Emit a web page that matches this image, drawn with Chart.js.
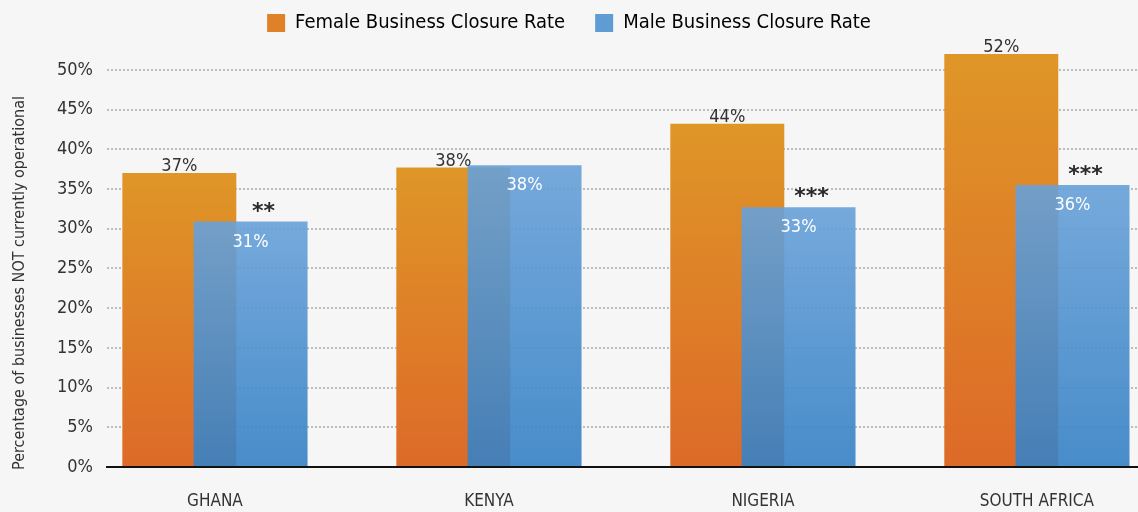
<!DOCTYPE html>
<html>
<head>
<meta charset="utf-8">
<script src="https://cdn.jsdelivr.net/npm/chart.js@4"></script>
<style>
  html, body { margin: 0; padding: 0; background: #f6f6f6; }
  #chart { display: block; }
</style>
</head>
<body>
<canvas id="chart" width="1138" height="512"></canvas>
<script>
const countries = ['GHANA', 'KENYA', 'NIGERIA', 'SOUTH AFRICA'];
const femaleRate = [37.0, 37.7, 43.2, 52.0];
const maleRate = [30.9, 38.0, 32.7, 35.5];
const femaleLabels = ['37%', '38%', '44%', '52%'];
const maleLabels = ['31%', '38%', '33%', '36%'];
const significance = ['**', '', '***', '***'];
const yTicks = [0, 5, 10, 15, 20, 25, 30, 35, 40, 45, 50];

const FONT = "'Liberation Sans Narrow', 'DejaVu Sans Condensed', 'Roboto Condensed', 'Arial Narrow', sans-serif";
const TEXT = '#333333';
const PAIR_OFFSET = 0.13; // half the gap between the two bars of one country

// vertical gradient for each bar, light at the top
function barGradient(context, top, bottom) {
  const chart = context.chart;
  if (!chart.chartArea || !context.parsed) return top;
  const y = chart.scales.y;
  const g = chart.ctx.createLinearGradient(0, y.getPixelForValue(context.parsed.y), 0, y.getPixelForValue(0));
  g.addColorStop(0, top);
  g.addColorStop(1, bottom);
  return g;
}

// fixed legend height so the plot starts where it should
const legendHeight = {
  id: 'legendHeight',
  afterInit(chart) {
    const fit = chart.legend.fit;
    chart.legend.fit = function () {
      fit.call(this);
      this.height = 63;
    };
  }
};

const valueLabels = {
  id: 'valueLabels',
  afterDatasetsDraw(chart) {
    const ctx = chart.ctx;
    ctx.save();
    ctx.textAlign = 'center';
    ctx.textBaseline = 'alphabetic';
    chart.getDatasetMeta(0).data.forEach((bar, i) => {
      ctx.font = '18px ' + FONT;
      ctx.fillStyle = TEXT;
      ctx.fillText(femaleLabels[i], bar.x, bar.y - 2);
    });
    chart.getDatasetMeta(1).data.forEach((bar, i) => {
      ctx.font = '18px ' + FONT;
      ctx.fillStyle = '#ffffff';
      ctx.fillText(maleLabels[i], bar.x, bar.y + 25);
      if (significance[i]) {
        ctx.font = "bold 22px 'DejaVu Sans'";
        ctx.fillStyle = '#2a2a2a';
        ctx.fillText(significance[i], bar.x + 13, bar.y - 4);
      }
    });
    ctx.restore();
  }
};

const yTitle = {
  id: 'yTitle',
  afterDraw(chart) {
    const ctx = chart.ctx;
    ctx.save();
    ctx.translate(20, 283);
    ctx.rotate(-Math.PI / 2);
    ctx.font = '16px ' + FONT;
    ctx.fillStyle = TEXT;
    ctx.textAlign = 'center';
    ctx.textBaseline = 'middle';
    ctx.fillText('Percentage of businesses NOT currently operational', 0, 0);
    ctx.restore();
  }
};

const legendColors = ['#df8127', '#5f9cd4'];

new Chart(document.getElementById('chart'), {
  type: 'bar',
  data: {
    datasets: [
      {
        label: 'Female Business Closure Rate',
        data: femaleRate.map((v, i) => ({ x: i - PAIR_OFFSET, y: v })),
        backgroundColor: c => barGradient(c, '#df9627', '#dd6a28'),
        order: 2
      },
      {
        label: 'Male Business Closure Rate',
        data: maleRate.map((v, i) => ({ x: i + PAIR_OFFSET, y: v })),
        backgroundColor: c => barGradient(c, 'rgba(104,161,217,0.9)', 'rgba(53,129,197,0.9)'),
        order: 1
      }
    ]
  },
  options: {
    responsive: false,
    animation: false,
    grouped: false,
    barPercentage: 1.6,
    categoryPercentage: 1,
    layout: { padding: { top: -17, left: 0, right: 0, bottom: 0 } },
    scales: {
      x: {
        type: 'linear',
        bounds: 'data',
        offset: false,
        min: -0.394,
        max: 3.369,
        afterBuildTicks: s => { s.ticks = countries.map((c, i) => ({ value: i })); },
        afterFit: s => { s.height = 45; },
        grid: { display: false, drawTicks: false, offset: false },
        border: { display: true, color: '#111111', width: 2 },
        ticks: {
          autoSkip: false,
          maxRotation: 0,
          padding: 24,
          color: TEXT,
          font: { family: FONT, size: 17 },
          callback: v => countries[v]
        }
      },
      y: {
        min: 0,
        max: 53,
        afterBuildTicks: s => { s.ticks = yTicks.map(v => ({ value: v })); },
        afterFit: s => { s.width = 107; },
        grid: {
          color: c => c.tick && c.tick.value === 0 ? 'transparent' : '#bcbcbc',
          lineWidth: 2,
          drawTicks: false
        },
        border: { display: false, dash: [2, 2] },
        ticks: {
          padding: 14,
          color: TEXT,
          font: { family: FONT, size: 18 },
          callback: v => v + '%'
        }
      }
    },
    plugins: {
      tooltip: { enabled: false },
      legend: {
        position: 'top',
        labels: {
          color: TEXT,
          font: { family: FONT, size: 20 },
          boxWidth: 18,
          boxHeight: 18,
          padding: 30,
          generateLabels: chart => chart.data.datasets.map((ds, i) => ({
            text: ds.label,
            fillStyle: legendColors[i],
            strokeStyle: 'transparent',
            lineWidth: 0,
            datasetIndex: i,
            hidden: false
          }))
        }
      }
    }
  },
  plugins: [legendHeight, valueLabels, yTitle]
});
</script>
</body>
</html>
